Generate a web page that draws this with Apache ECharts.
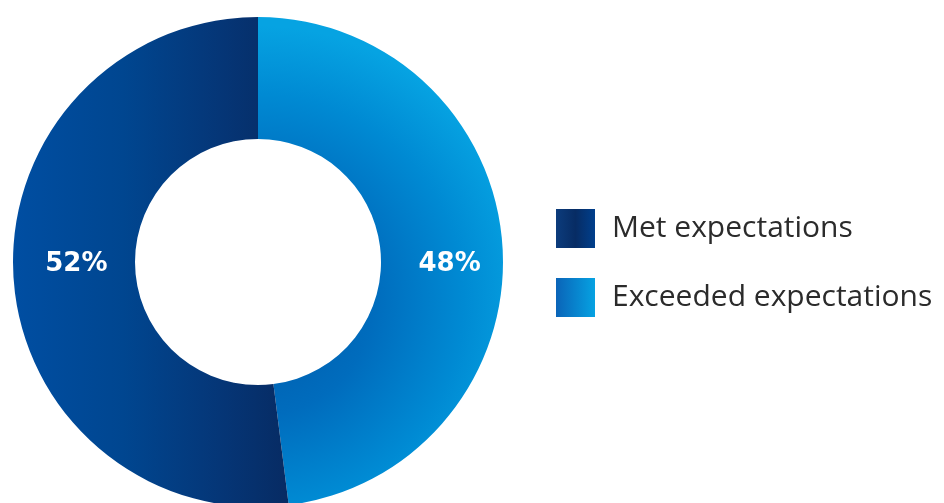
<!DOCTYPE html>
<html>
<head>
<meta charset="utf-8">
<script src="https://cdn.jsdelivr.net/npm/echarts@6/dist/echarts.min.js"></script>
<style>
html,body{margin:0;padding:0;background:#fff;}
#chart{width:944px;height:503px;}
</style>
</head>
<body>
<div id="chart"></div>
<script>
// Data
var categories = ['Exceeded expectations', 'Met expectations'];
var values = [48, 52];
var legendOrder = ['Met expectations', 'Exceeded expectations'];

var sliceColors = {
  'Exceeded expectations': {
    type: 'radial', x: 0, y: 0.58, r: 1.12,
    colorStops: [
      { offset: 0.0, color: '#0058a8' },
      { offset: 0.42, color: '#006cbd' },
      { offset: 0.75, color: '#008ad3' },
      { offset: 1.0, color: '#06a3e2' }
    ]
  },
  'Met expectations': {
    type: 'linear', x: 0, y: 0, x2: 1, y2: 0,
    colorStops: [
      { offset: 0.0, color: '#004ea2' },
      { offset: 0.4, color: '#004690' },
      { offset: 0.75, color: '#053677' },
      { offset: 1.0, color: '#072b63' }
    ]
  }
};
var legendColors = {
  'Met expectations': {
    type: 'linear', x: 0, y: 0, x2: 1, y2: 0,
    colorStops: [
      { offset: 0, color: '#0c3c7c' },
      { offset: 0.5, color: '#072c64' },
      { offset: 1, color: '#003f8c' }
    ]
  },
  'Exceeded expectations': {
    type: 'linear', x: 0, y: 0, x2: 1, y2: 0,
    colorStops: [
      { offset: 0, color: '#0a64b8' },
      { offset: 1, color: '#06a2e2' }
    ]
  }
};
var labelOffsets = {
  'Exceeded expectations': [5, 14],
  'Met expectations': [5, -9]
};

var chart = echarts.init(document.getElementById('chart'), null, { renderer: 'canvas' });
var option = {
  animation: false,
  backgroundColor: '#ffffff',
  legend: {
    orient: 'vertical',
    left: 556,
    top: 209,
    padding: 0,
    itemWidth: 39,
    itemHeight: 39,
    itemGap: 30,
    icon: 'rect',
    selectedMode: false,
    data: legendOrder.map(function (n) {
      return { name: n, itemStyle: { color: legendColors[n] } };
    }),
    textStyle: {
      fontFamily: 'Open Sans',
      fontSize: 30,
      color: '#2b2b2b',
      padding: [0, 0, 0, 12],
      lineHeight: 39
    }
  },
  series: [{
    type: 'pie',
    center: [258, 262],
    radius: [123, 245],
    startAngle: 90,
    clockwise: true,
    silent: true,
    emphasis: { disabled: true },
    labelLine: { show: false },
    label: {
      show: true,
      position: 'inside',
      formatter: '{c}%',
      color: '#ffffff',
      fontFamily: 'DejaVu Sans',
      fontWeight: 'bold',
      fontSize: 26
    },
    data: categories.map(function (n, i) {
      return {
        name: n,
        value: values[i],
        itemStyle: { color: sliceColors[n] },
        label: { offset: labelOffsets[n] }
      };
    })
  }]
};
chart.setOption(option);
</script>
</body>
</html>
